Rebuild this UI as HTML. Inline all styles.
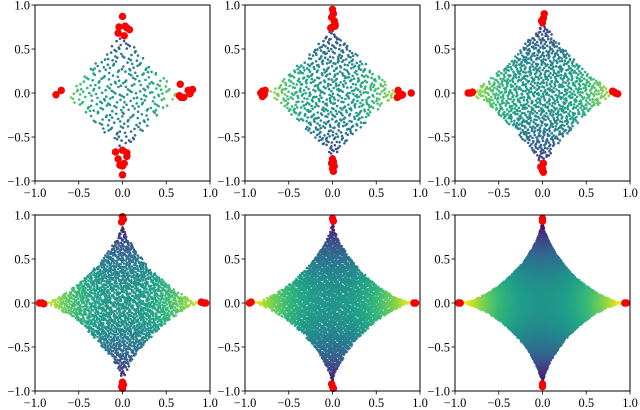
<!DOCTYPE html>
<html><head><meta charset="utf-8"><style>
body{margin:0;background:#fff;width:640px;height:410px;overflow:hidden}
svg{display:block}
text{font-family:"Liberation Serif",serif;font-size:12.5px;fill:#000}
</style></head><body>
<svg id="fig" width="640" height="410" viewBox="0 0 640 410"></svg>
<script>
// ---- data ----
const tickValues = [-1.0, -0.5, 0.0, 0.5, 1.0];
const tickLabels = ["\u22121.0", "\u22120.5", "0.0", "0.5", "1.0"];
const pointCounts = [300, 650, 1100, 1800, 3500, 7000];
const shapeRadii = [0.66, 0.74, 0.84, 0.9, 0.93, 0.95];
const shapeExponents = [1.0, 0.95, 0.85, 0.75, 0.7, 0.67];
const redX1 = [0,-0.04,0.03,0.05,0.08,-0.05,0.02,0,0.05,0.05,-0.05,-0.03,0,0.02,0,-0.08,-0.76,-0.7,0.66,0.65,0.67,0.7,0.75,0.78,0.8,0.77];
const redY1 = [0.87,0.75,0.76,0.74,0.72,0.68,0.65,-0.65,-0.68,-0.72,-0.75,-0.82,-0.83,-0.8,-0.93,-0.67,-0.02,0.03,0.1,-0.03,-0.05,-0.05,0.03,0.02,0.04,-0.01];
const redX2 = [0,0.01,-0.01,0.02,0.03,0,-0.02,0.03,0,0.01,-0.01,0.02,0,0.01,-0.8,-0.82,-0.78,-0.8,-0.77,-0.79,0.75,0.78,0.8,0.9,0.74];
const redY2 = [0.95,0.9,0.86,0.82,0.78,0.75,0.74,0.76,-0.75,-0.78,-0.8,-0.83,-0.86,-0.89,0.02,0,-0.02,-0.04,0.03,0.01,0.03,-0.03,-0.02,0.0,-0.05];
const redX3 = [0.02,0.01,-0.01,0,0.01,-0.02,0,0.01,0,-0.85,-0.82,-0.8,0.8,0.83,0.86,0.82];
const redY3 = [0.9,0.85,0.82,0.8,-0.8,-0.84,-0.88,-0.9,-0.86,0,0,0.01,0.02,0,-0.01,0.01];
const redX4 = [0,0.01,-0.01,0,0.01,-0.01,0,-0.95,-0.92,-0.9,0.9,0.93,0.95];
const redY4 = [0.98,0.95,0.92,-0.9,-0.93,-0.95,-0.97,0,0.0,-0.01,0.01,0,0];
const redX5 = [0,0.01,-0.01,0,0.01,-0.95,-0.93,0.93,0.95];
const redY5 = [0.96,0.93,-0.92,-0.95,-0.97,0,0.01,0,0];
const redX6 = [0,0,0,0,-0.96,-0.94,0.94,0.96];
const redY6 = [0.96,0.93,-0.92,-0.95,0,0,0,0];
const redXs = [redX1, redX2, redX3, redX4, redX5, redX6];
const redYs = [redY1, redY2, redY3, redY4, redY5, redY6];

// ---- layout ----
const NS = "http://www.w3.org/2000/svg";
const svg = document.getElementById("fig");
const panelX = [35, 245, 455], panelY = [5, 215], PW = 175, PH = 176;
function mk(tag, attrs, parent){const e=document.createElementNS(NS,tag);for(const k in attrs)e.setAttribute(k,attrs[k]);parent.appendChild(e);return e;}
const vir=[[68,1,84],[72,40,120],[62,74,137],[49,104,142],[38,130,142],[31,158,137],[53,183,121],[109,205,89],[180,222,44],[253,231,37]];
function viridis(t){t=Math.max(0,Math.min(1,t))*9;const i=Math.min(8,Math.floor(t)),f=t-i;const a=vir[i],b=vir[i+1];
return `rgb(${Math.round(a[0]+(b[0]-a[0])*f)},${Math.round(a[1]+(b[1]-a[1])*f)},${Math.round(a[2]+(b[2]-a[2])*f)})`;}
function halton(i,b){let f=1,r=0;while(i>0){f/=b;r+=f*(i%b);i=Math.floor(i/b);}return r;}

for(let p=0;p<6;p++){
  const ox=panelX[p%3], oy=panelY[Math.floor(p/3)];
  const sx=v=>ox+(v+1)/2*PW, sy=v=>oy+(1-(v+1)/2)*PH;
  const g=mk("g",{},svg);
  
  
  const pts=mk("g",{},g);
  
  
  const r=shapeRadii[p], e=shapeExponents[p], n=pointCounts[p];
  const rad = n>3000?1.25:1.3;
  const amp = 0.3 + 0.2*p/5;
  let cnt=0,i=1;
  while(cnt<n && i<200000){
    const x=(halton(i,2)*2-1)*r, y=(halton(i,3)*2-1)*r; i++;
    if(Math.pow(Math.abs(x)/r,e)+Math.pow(Math.abs(y)/r,e)>1) continue;
    cnt++;
    const t=0.52+amp*(x*x-y*y)/(r*r)*1.1;
    mk("circle",{cx:sx(x).toFixed(1),cy:sy(y).toFixed(1),r:rad,fill:viridis(t)},pts);
  }
  const rg=mk("g",{},g);
  
  
  const rx=redXs[p], ry=redYs[p];
  for(let k=0;k<rx.length;k++){
    const c=mk("circle",{cx:sx(rx[k]),cy:sy(ry[k]),r:3.4,fill:"#f00",stroke:"#e00","stroke-width":0.6},rg);
    
    
  }
  const fr=mk("rect",{x:ox,y:oy,width:PW,height:PH,fill:"none",stroke:"#000","stroke-width":1},g);
  
  
  for(let k=0;k<tickValues.length;k++){
    const tx=sx(tickValues[k]), ty=sy(tickValues[k]);
    mk("line",{x1:tx,x2:tx,y1:oy+PH,y2:oy+PH+3.5,stroke:"#000","stroke-width":0.8},g);
    mk("line",{x1:ox,x2:ox-3.5,y1:ty,y2:ty,stroke:"#000","stroke-width":0.8},g);
    const xl=mk("text",{x:tx,y:oy+PH+16,"text-anchor":"middle"},g);
    xl.textContent=tickLabels[k];
    
    
    const yl=mk("text",{x:ox-5,y:ty+4.5,"text-anchor":"end"},g);
    yl.textContent=tickLabels[k];
    
    
  }
}
</script>
</body></html>
